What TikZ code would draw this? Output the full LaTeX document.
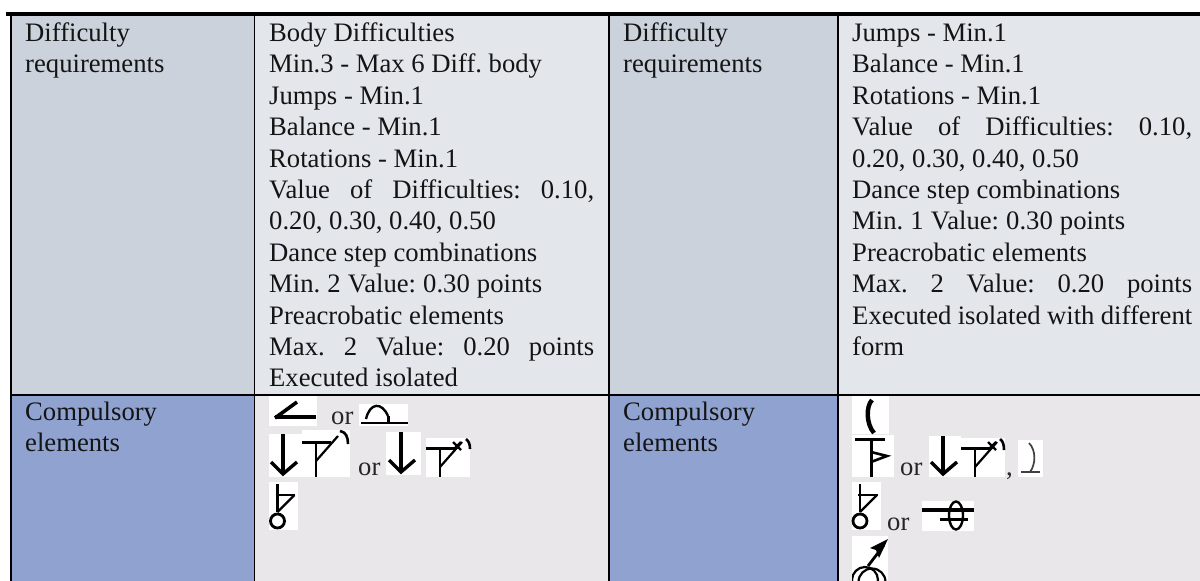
\documentclass[tikz,border=0pt]{standalone}
\usepackage{fontspec}
\setmainfont{Liberation Serif}
\definecolor{headA}{HTML}{CBD2DC}
\definecolor{headB}{HTML}{E3E7EC}
\definecolor{compA}{HTML}{90A2CF}
\definecolor{compB}{HTML}{E9E7E9}
\newcommand{\cellfont}{\frenchspacing\fontsize{26.67}{31.4}\selectfont}
\newcommand{\jl}[2][325]{\makebox[#1pt][s]{#2}}
\newcommand{\symArrow}[3]{% x, top, tip
  \draw[ink,line width=3.6] (#1,#2) -- (#1,#3);
  \draw[ink,line width=3.4] (#1-12,#3-12) -- (#1,#3) -- (#1+14,#3-12);}
\newcommand{\symTeeA}[2]{% left x, bar y
  \draw[ink,line width=3] (#1,#2) -- (#1+29,#2);
  \draw[ink,line width=2.8] (#1+14,#2) -- (#1+14,477);
  \draw[ink,line width=2.2] (#1+14,#2+19) -- (#1+36,#2-6);}
\newcommand{\symFoot}[2]{% x of circle, right x
  \draw[ink,line width=2.2] (#1,484) -- (#1,512);
  \draw[ink,line width=2.6] (#1-2,495) -- (#2,495);
  \draw[ink,line width=2.2] (#1+17,495) -- (#1,512);
  \draw[ink,line width=2.8] (#1,521) circle (7);}
\tikzset{
  cell/.style={inner sep=0pt,anchor=base west,font=\cellfont,text=black!92},
  orword/.style={inner sep=0pt,anchor=base west,font=\cellfont,text=black!85},
  rule/.style={draw=black,line width=1.6},
  ink/.style={draw=black,line cap=butt},
  patch/.style={fill=white,draw=none}
}
\begin{document}
\begin{tikzpicture}[x=1pt,y=-1pt]
\useasboundingbox (0,0) rectangle (1200,581);
\fill[white] (0,0) rectangle (1200,581);
% fills
\fill[headA] (11,15) rectangle (254.5,395);
\fill[headB] (254.5,15) rectangle (609,395);
\fill[headA] (609,15) rectangle (838,395);
\fill[headB] (838,15) rectangle (1200,395);
\fill[compA] (11,395) rectangle (254.5,581);
\fill[compB] (254.5,395) rectangle (609,581);
\fill[compA] (609,395) rectangle (838,581);
\fill[compB] (838,395) rectangle (1200,581);
% rules
\draw[rule,line width=4.4] (6,14.2) -- (1200,14.2);
\foreach \cx in {11,254.5,609,838} \draw[rule] (\cx,14) -- (\cx,581);
\draw[rule] (11,395) -- (1200,395);
% text
\node[cell] (h1) at (25,41.5) {\parbox[t]{220pt}{Difficulty\\requirements}};
\node[cell] (b1) at (269,41.5) {\parbox[t]{330pt}{Body Difficulties\\
Min.3 - Max 6 Diff. body\\
Jumps - Min.1\\
Balance - Min.1\\
Rotations - Min.1\\
\jl{Value of Difficulties: 0.10,}\\
0.20, 0.30, 0.40, 0.50\\
Dance step combinations\\
\jl[273]{Min. 2 Value: 0.30 points}\\
Preacrobatic elements\\
\jl{Max. 2 Value: 0.20 points}\\
Executed isolated}};
\node[cell] (h2) at (623,41.5) {\parbox[t]{210pt}{Difficulty\\requirements}};
\node[cell] (b2) at (852,41.5) {\parbox[t]{345pt}{Jumps - Min.1\\
Balance - Min.1\\
Rotations - Min.1\\
\jl[340]{Value of Difficulties: 0.10,}\\
0.20, 0.30, 0.40, 0.50\\
Dance step combinations\\
\jl[273]{Min. 1 Value: 0.30 points}\\
Preacrobatic elements\\
\jl[340]{Max. 2 Value: 0.20 points}\\
\jl[340]{Executed isolated with different}\\
form}};
\node[cell] (c1) at (25,420) {\parbox[t]{220pt}{Compulsory\\elements}};
\node[cell] (c2) at (623,420) {\parbox[t]{210pt}{Compulsory\\elements}};
% symbols, left compulsory cell
\fill[patch] (269,395.8) rectangle (317,426);
\draw[ink,line width=4] (275,417) -- (316,417);
\draw[ink,line width=3.6] (275,418) -- (297,402);
\node[orword] (or1) at (331,424) {or};
\fill[patch] (359,404) rectangle (408,426);
\draw[ink,line width=2.6] (361,423) -- (408,423);
\draw[ink,line width=2.4] (366,419) .. controls (370,402) and (382,402) .. (388,416);
\draw[ink,line width=2.4] (388.5,416) -- (388.5,423);
\fill[patch] (269,434) rectangle (302,477);
\fill[patch] (302,430) rectangle (350,477);
\symArrow{283}{434}{474}
\symTeeA{302}{442}
\draw[ink,line width=2.6] (340,431) .. controls (346,432) and (348,437) .. (348,444);
\node[orword] (or2) at (358,475) {or};
\fill[patch] (386,432) rectangle (421,475);
\fill[patch] (426,438) rectangle (470,477);
\symArrow{401}{432}{472}
\symTeeA{426}{448}
\draw[ink,line width=2.2] (453,442) -- (461,450) (461,442) -- (453,450);
\draw[ink,line width=2.6] (466,439) .. controls (469,441) and (470,445) .. (470,449);
\fill[patch] (269,482) rectangle (298,530);
\symFoot{277.5}{295}
% symbols, right compulsory cell
\fill[patch] (852,395.8) rectangle (889,434);
\draw[ink,line width=4.4] (872,400) .. controls (866,406) and (866,424) .. (874,433);
\fill[patch] (852,435) rectangle (894,477);
\draw[ink,line width=3.2] (855,439.5) -- (885,439.5);
\draw[ink,line width=3] (871,439) -- (871,477);
\draw[ink,line width=2.6] (871,462) -- (887,456) -- (871,452);
\node[orword] (or3) at (900,475) {or};
\fill[patch] (929,436) rectangle (961,477);
\fill[patch] (961,438) rectangle (1005,477);
\symArrow{943}{436}{474}
\symTeeA{961}{448}
\draw[ink,line width=2.2] (988,442) -- (996,450) (996,442) -- (988,450);
\draw[ink,line width=2.6] (1000,439) .. controls (1003,441) and (1004,445) .. (1004,450);
\node[orword] (comma) at (1006,475) {,};
\fill[patch] (1018,440) rectangle (1043,477);
\draw[draw=black!75,line width=1.7] (1029,443) .. controls (1036,450) and (1036,464) .. (1030,472);
\draw[draw=black!75,line width=1.6] (1021,472) -- (1040,472);
\fill[patch] (852,482) rectangle (881,530);
\symFoot{860}{878}
\node[orword] (or4) at (887,530) {or};
\fill[patch] (922,501) rectangle (974,531);
\draw[ink,line width=3.4] (922,510) -- (974,510);
\draw[ink,line width=3] (940,519) -- (968,519);
\draw[ink,line width=2.4] (956,515.5) ellipse (7 and 14);
\fill[patch] (852,536) rectangle (888,581);
\begin{scope}
\clip (852,536) rectangle (888,581);
\draw[ink,line width=2.2] (865,580) circle (13);
\draw[ink,line width=2.2] (872,582) circle (13.5);
\end{scope}
\draw[ink,line width=2.8] (868,566) -- (884,545);
\fill[black] (888,539) -- (870,548) -- (876,550) -- (879,558) -- cycle;
\end{tikzpicture}
\end{document}
